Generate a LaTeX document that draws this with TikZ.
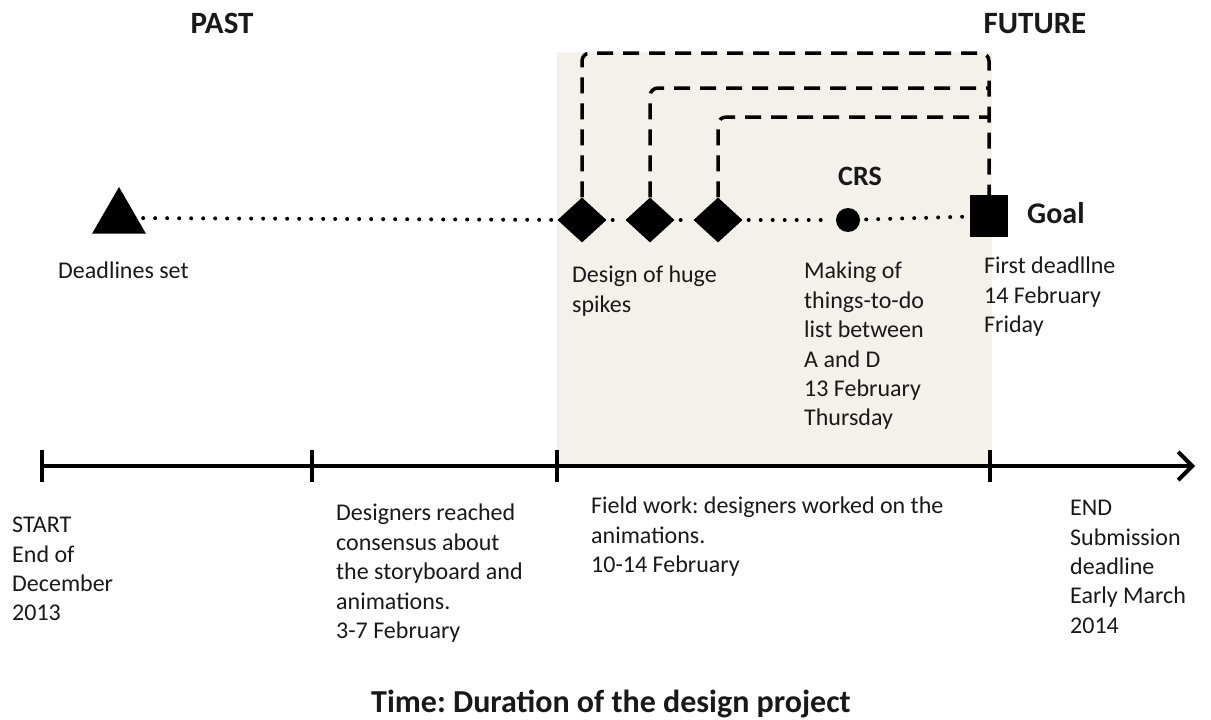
\documentclass[tikz,border=0pt]{standalone}
\usepackage{fontspec}
\setmainfont{Carlito}
\usetikzlibrary{shapes.geometric,arrows.meta}
\definecolor{bgbeige}{RGB}{243,241,234}
\definecolor{ink}{RGB}{25,25,25}
\tikzset{
  txt/.style={anchor=north west,align=left,inner sep=0pt,font=\fontsize{24}{29.4}\selectfont,text=ink},
  head/.style={anchor=base,inner sep=0pt,font=\fontsize{31}{34}\selectfont\bfseries,text=ink},
  spike/.style={diamond,fill=black,inner sep=0pt,minimum width=49pt,minimum height=45pt},
  plan/.style={draw=black,line width=3.5pt,dash pattern=on 16pt off 10pt,rounded corners=8pt},
  dots/.style={draw=black,line width=4pt,line cap=round,dash pattern=on 0pt off 12pt,shorten <=6pt,shorten >=6pt},
  tick/.style={draw=black,line width=4pt}
}
\frenchspacing
\begin{document}
\begin{tikzpicture}[x=1pt,y=-1pt]
        \path[use as bounding box] (0,0) rectangle (1211,720);
        \fill[bgbeige] (557,52) rectangle (992,466);
        \node[head] at (222,33) (past) {PAST};
        \node[head] at (1035,33) (future) {FUTURE};
        % milestones
        \node[regular polygon,regular polygon sides=3,fill=black,inner sep=0pt,minimum size=62pt] at (119,218) (set) {};
        \node[spike] at (582,220) (d1) {};
        \node[spike] at (650,220) (d2) {};
        \node[spike] at (718,220) (d3) {};
        \node[circle,fill=black,inner sep=0pt,minimum size=24pt] at (848,220) (crs) {};
        \node[rectangle,fill=black,inner sep=0pt,minimum width=38pt,minimum height=42pt] at (989,216) (goal) {};
        \node[head,font=\fontsize{28}{32}\selectfont\bfseries] at (860,185) (crshead) {CRS};
        \node[head,anchor=base west,font=\fontsize{30}{34}\selectfont\bfseries] at (1027,223) (goalhead) {Goal};
        \path[dots] (set) -- (d1);
        \path[dots] (d1) -- (d2);
        \path[dots] (d2) -- (d3);
        \path[dots] (d3) -- (crs);
        \path[dots] (crs) -- (goal);
        \coordinate (lvl1) at (0,53);
        \coordinate (lvl2) at (0,88);
        \coordinate (lvl3) at (0,117);
        \path[plan] (d1.north) |- (lvl1 -| goal.north) -- (goal.north);
        \path[plan] (d2.north) |- (lvl2 -| goal.north);
        \path[plan] (d3.north) |- (lvl3 -| goal.north);
        \node[txt] at (58,262) (setlbl) {Deadlines set};
        \node[txt] at (572,266) (spikelbl) {Design of huge\\spikes};
        \node[txt] at (804,262) (crslbl) {Making of\\things-to-do\\list between\\A and D\\13 February\\Thursday};
        \node[txt] at (984,257) (goallbl) {First deadllne\\14 February\\Friday};
        % time axis
        \coordinate (t0) at (42,466);
        \coordinate (t1) at (312,466);
        \coordinate (t2) at (557,466);
        \coordinate (t3) at (990,466);
        \coordinate (tend) at (1195,466);
        \path[draw,line width=4pt,-{Straight Barb[length=14pt,width=28pt]}] (t0) -- (tend);
        \path[tick] ([yshift=16pt]t0) -- ([yshift=-16pt]t0);
        \path[tick] ([yshift=16pt]t1) -- ([yshift=-16pt]t1);
        \path[tick] ([yshift=16pt]t2) -- ([yshift=-16pt]t2);
        \path[tick] ([yshift=16pt]t3) -- ([yshift=-16pt]t3);
        \node[txt] at (12,517) (startlbl) {START\\End of\\December\\2013};
        \node[txt] at (336,504) (consensus) {Designers reached\\consensus about\\the storyboard and\\animations.\\3-7 February};
        \node[txt] at (591,497) (fieldwork) {Field work: designers worked on the\\animations.\\10-14 February};
        \node[txt] at (1070,500) (endlbl) {END\\Submission\\deadline\\Early March\\2014};
        \node[head,font=\fontsize{32}{36}\selectfont\bfseries] at (611,712) (title) {Time: Duration of the design project};
      \end{tikzpicture}
\end{document}
